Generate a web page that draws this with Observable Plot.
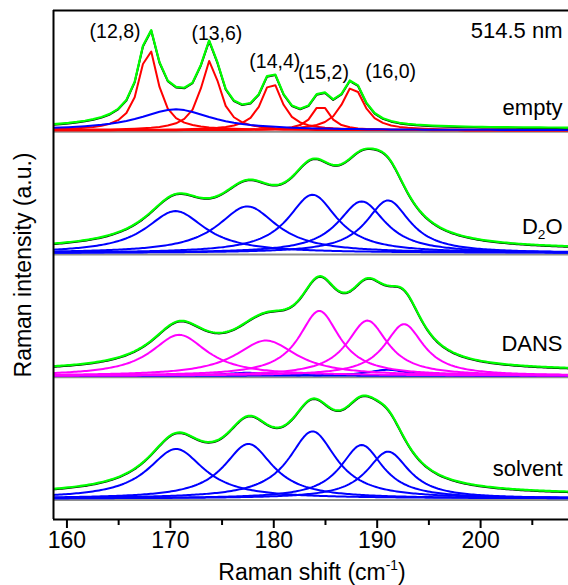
<!DOCTYPE html>
<html><head><meta charset="utf-8">
<script src="https://cdn.jsdelivr.net/npm/d3@7"></script>
<script src="https://cdn.jsdelivr.net/npm/@observablehq/plot@0.6"></script>
<style>
body{margin:0;background:#fff;}
svg{font-family:"Liberation Sans",Arial,sans-serif;}
</style>
</head><body><div id="chart"></div>
<script>
// ---------- data ----------
const panelNames = ["empty", "D2O", "DANS", "solvent"];
const panelOffsets = [3.69, 2.46, 1.23, 0];      // vertical stacking offset (a.u.)
const panelBackground = [0.02, 0.03, 0.045, 0.035]; // constant background in the fit sum (a.u.)

// empty (red Lorentzians + one broad blue)
const emptyCenters = [167.9, 173.85, 179.8, 184.55, 187.65];
const emptyHeights = [0.83, 0.70, 0.49, 0.26, 0.44];
const emptyWidths  = [2.2, 2.2, 2.4, 2.0, 2.6];
const emptyBroadCenters = [170.5];
const emptyBroadHeights = [0.21];
const emptyBroadWidths  = [8.5];

// D2O (blue)
const d2oCenters = [170.5, 177.45, 183.75, 188.5, 191.05];
const d2oHeights = [0.42, 0.467, 0.584, 0.517, 0.527];
const d2oWidths  = [7.0, 7.0, 5.8, 5.6, 5.2];

// DANS (magenta + weak blue)
const dansCenters = [170.85, 179.25, 184.4, 189.05, 192.6];
const dansHeights = [0.41, 0.353, 0.65, 0.553, 0.517];
const dansWidths  = [6.6, 7.2, 4.8, 4.8, 4.6];
const dansMinorCenters = [177.4, 191.0];
const dansMinorHeights = [0.03, 0.06];
const dansMinorWidths  = [5.0, 4.5];

// solvent (blue)
const solventCenters = [170.55, 177.55, 183.75, 188.5, 191.05];
const solventHeights = [0.497, 0.547, 0.673, 0.537, 0.47];
const solventWidths  = [6.6, 5.8, 5.6, 5.0, 5.0];

const peakLabels = ["(12,8)", "(13,6)", "(14,4)", "(15,2)", "(16,0)"];
const wavelengthLabel = "514.5 nm";
const xTicks = [160, 170, 180, 190, 200];
const xMinorTicks = [165, 175, 185, 195, 205];

// ---------- build rows ----------
const xDomain = [158.7, 208.5];
const yDomain = [-0.21, 4.89];
const lor = (x, c, h, w) => h / (1 + ((x - c) / (w / 2)) ** 2);
function grid(start, step) { const g = []; for (let x = start; x <= xDomain[1] + step; x += step) g.push(+x.toFixed(3)); return g; }
const gridCoarse = grid(158.55, 0.8);
const gridFine = grid(158.5, 0.2);

const panels = [
  {groups: [[emptyCenters, emptyHeights, emptyWidths, "#ff0000"], [emptyBroadCenters, emptyBroadHeights, emptyBroadWidths, "#0000ff"]], xs: gridCoarse},
  {groups: [[d2oCenters, d2oHeights, d2oWidths, "#0000ff"]], xs: gridFine},
  {groups: [[dansMinorCenters, dansMinorHeights, dansMinorWidths, "#0000ff"], [dansCenters, dansHeights, dansWidths, "#ff00ff"]], xs: gridFine},
  {groups: [[solventCenters, solventHeights, solventWidths, "#0000ff"]], xs: gridFine}
];

const compRows = [], sumRows = [];
panels.forEach((p, pi) => {
  const off = panelOffsets[pi];
  const comps = [];
  p.groups.forEach(([C, H, W, color], gi) => C.forEach((c, k) => comps.push({c, h: H[k], w: W[k], color, id: `${pi}-${gi}-${k}`})));
  comps.forEach(cp => p.xs.forEach(x => compRows.push({id: cp.id, color: cp.color, x, y: off + lor(x, cp.c, cp.h, cp.w)})));
  p.xs.forEach(x => {
    let s = panelBackground[pi];
    comps.forEach(cp => s += lor(x, cp.c, cp.h, cp.w));
    sumRows.push({panel: pi, x, y: off + s});
  });
});

// ---------- chart ----------
const axisFont = 23;
const chart = Plot.plot({
  width: 568, height: 585,
  marginTop: 10, marginBottom: 66, marginLeft: 53, marginRight: 0,
  x: {domain: xDomain},
  y: {domain: yDomain, axis: null},
  color: {type: "identity"},
  style: {fontFamily: "'Liberation Sans', Arial, sans-serif", background: "#fff", overflow: "visible"},
  marks: [
    Plot.ruleY(panelOffsets, {stroke: "#8f8f8f", strokeWidth: 2, dy: 1.5}),
    Plot.line(compRows, {x: "x", y: "y", z: "id", stroke: "color", strokeWidth: 2, clip: true}),
    Plot.line(sumRows, {x: "x", y: "y", z: "panel", stroke: "#000", strokeWidth: 2, dy: 0.6, clip: true}),
    Plot.line(sumRows, {x: "x", y: "y", z: "panel", stroke: "#00ff00", strokeWidth: 2.2, clip: true}),
    // frame (left, top, bottom)
    Plot.ruleX([xDomain[0]], {stroke: "#000", strokeWidth: 2}),
    Plot.ruleY([yDomain[0], yDomain[1]], {stroke: "#000", strokeWidth: 2}),
    Plot.axisX({ticks: xTicks, tickSize: 9, tickPadding: 3, strokeWidth: 2, fontSize: axisFont, label: null, tickFormat: d => String(d), color: "#000"}),
    Plot.axisX({ticks: xMinorTicks, tickSize: 6, strokeWidth: 2, label: null, tickFormat: () => ""}),
    // labels
    Plot.text(peakLabels, {x: [164.65, 174.5, 180.1, 184.8, 191.3], y: [4.675, 4.66, 4.38, 4.265, 4.28], text: d => d, fontSize: 19.5, fill: "#000"}),
    Plot.text([wavelengthLabel], {frameAnchor: "top-right", dx: -6, dy: 12, fontSize: 22, fill: "#000"}),
    Plot.text(panelNames, {frameAnchor: "right", y: (d, i) => panelOffsets[i] + [0.22, 0.26, 0.32, 0.30][i], dx: -6, textAnchor: "end", fontSize: 22, fill: "#000"}),
    Plot.text(["Raman intensity (a.u.)"], {frameAnchor: "left", textAnchor: "middle", rotate: -90, dx: -30, fontSize: axisFont, fill: "#000"})
  ]
});
document.getElementById("chart").appendChild(chart);

// subscript / superscript text
d3.select(chart).selectAll("text").filter(function() { return this.textContent === "D2O"; }).each(function() {
  const t = d3.select(this); t.text(null);
  t.append("tspan").text("D");
  t.append("tspan").attr("font-size", "0.62em").attr("dy", "0.35em").text("2");
  t.append("tspan").attr("dy", "-0.22em").text("O");
});
const xt = d3.select(chart).append("text")
  .attr("x", 312).attr("y", 580).attr("text-anchor", "middle")
  .attr("font-size", axisFont).attr("fill", "#000");
xt.append("tspan").text("Raman shift (cm");
xt.append("tspan").attr("font-size", "0.6em").attr("dy", "-0.75em").text("-1");
xt.append("tspan").attr("dy", "0.45em").text(")");
</script>
</body></html>
